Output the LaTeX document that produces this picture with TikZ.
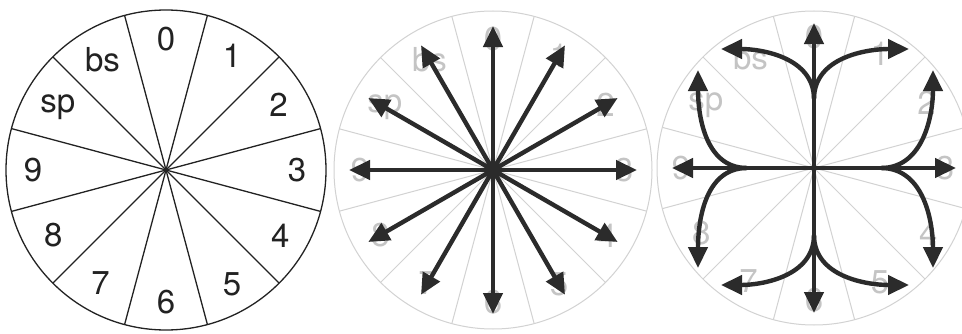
\documentclass[tikz,border=0pt]{standalone}
\usepackage{fontspec}
\setmainfont{TeX Gyre Heros}
\usetikzlibrary{arrows.meta}
\definecolor{ink}{HTML}{222222}
\definecolor{arrowc}{HTML}{2B2B2B}
\definecolor{faint}{HTML}{D2D2D2}
\definecolor{faintt}{HTML}{C4C4C4}
\begin{document}
\begin{tikzpicture}[x=1pt,y=1pt,
  lab/.style={font=\fontsize{33}{33}\selectfont, inner sep=0pt, text=ink},
  flab/.style={lab, text=faintt},
  wheel/.style={draw=ink, line width=1.3pt},
  fwheel/.style={draw=faint, line width=1pt},
  arr/.style={draw=arrowc, line width=4.4pt, -{Triangle[length=21pt,width=19pt]}},
]
\useasboundingbox (0,0) rectangle (962,333);
\fill[white] (0,0) rectangle (962,333);
% centres
\coordinate (A) at (166,163);
\coordinate (B) at (493,163);
\coordinate (C) at (814,165);
% ---------- wheel 1
\draw[wheel] (A) circle[radius=160];
\foreach \a in {15,45,...,345} \draw[wheel] (A) -- ([shift={(\a:160)}]A);
\foreach \t/\ang/\r [count=\k] in {0/90/131,1/60/132,2/30/130,3/0/131,4/-30/132,5/-60/132,6/-90/132,7/-120/131,8/-150/130,9/180/133,sp/150/125,bs/120/127}
  \node[lab] (A\k) at ([shift={(\ang:\r)}]A) {\t};
% ---------- wheel 2
\draw[fwheel] (B) circle[radius=159];
\foreach \a in {15,45,...,345} \draw[fwheel] (B) -- ([shift={(\a:159)}]B);
\foreach \t/\ang/\r [count=\k] in {0/90/131,1/60/132,2/30/130,3/0/131,4/-30/132,5/-60/132,6/-90/132,7/-120/131,8/-150/130,9/180/133,sp/150/125,bs/120/127}
  \node[flab] (B\k) at ([shift={(\ang:\r)}]B) {\t};
\foreach \ang [count=\k] in {90,60,30,0,-30,-60,-90,-120,-150,180,150,120} {
  \coordinate (Bt\k) at ([shift={(\ang:144)}]B);
  \draw[arr] (B) -- (Bt\k);
}
\fill[arrowc] (B) circle[radius=9];
% ---------- wheel 3
\draw[fwheel] (C) circle[radius=157];
\foreach \a in {15,45,...,345} \draw[fwheel] (C) -- ([shift={(\a:157)}]C);
\foreach \t/\ang/\r [count=\k] in {0/90/131,1/60/132,2/30/130,3/0/131,4/-30/132,5/-60/132,6/-90/132,7/-120/131,8/-150/130,9/180/133,sp/150/125,bs/120/127}
  \node[flab] (C\k) at ([shift={(\ang:\r)}]C) {\t};
% straight axes
\coordinate (Cn) at ([shift={(90:145)}]C);
\coordinate (Cs) at ([shift={(-90:145)}]C);
\coordinate (Ce) at ([shift={(0:142)}]C);
\coordinate (Cw) at ([shift={(180:142)}]C);
\draw[arr] (C) -- (Cn);
\draw[arr] (C) -- (Cs);
\draw[arr] (C) -- (Ce);
\draw[arr] (C) -- (Cw);
% branch points
\coordinate (Bn) at ([shift={(0,69)}]C);
\coordinate (Bs) at ([shift={(0,-67)}]C);
\coordinate (Be) at ([shift={(67,0)}]C);
\coordinate (Bw) at ([shift={(-67,0)}]C);
% curve ends
\coordinate (Enw) at ([shift={(-93,119)}]C);
\coordinate (Ene) at ([shift={(95,119)}]C);
\coordinate (Esw) at ([shift={(-93,-117)}]C);
\coordinate (Ese) at ([shift={(95,-117)}]C);
\coordinate (Ewn) at ([shift={(-116,98)}]C);
\coordinate (Ews) at ([shift={(-116,-100)}]C);
\coordinate (Een) at ([shift={(119,98)}]C);
\coordinate (Ees) at ([shift={(119,-100)}]C);
\draw[arr] (Bn) to[out=90,in=0] (Enw);
\draw[arr] (Bn) to[out=90,in=180] (Ene);
\draw[arr] (Bs) to[out=-90,in=0] (Esw);
\draw[arr] (Bs) to[out=-90,in=180] (Ese);
\draw[arr] (Bw) to[out=180,in=-90] (Ewn);
\draw[arr] (Bw) to[out=180,in=90] (Ews);
\draw[arr] (Be) to[out=0,in=-90] (Een);
\draw[arr] (Be) to[out=0,in=90] (Ees);
\end{tikzpicture}
\end{document}
